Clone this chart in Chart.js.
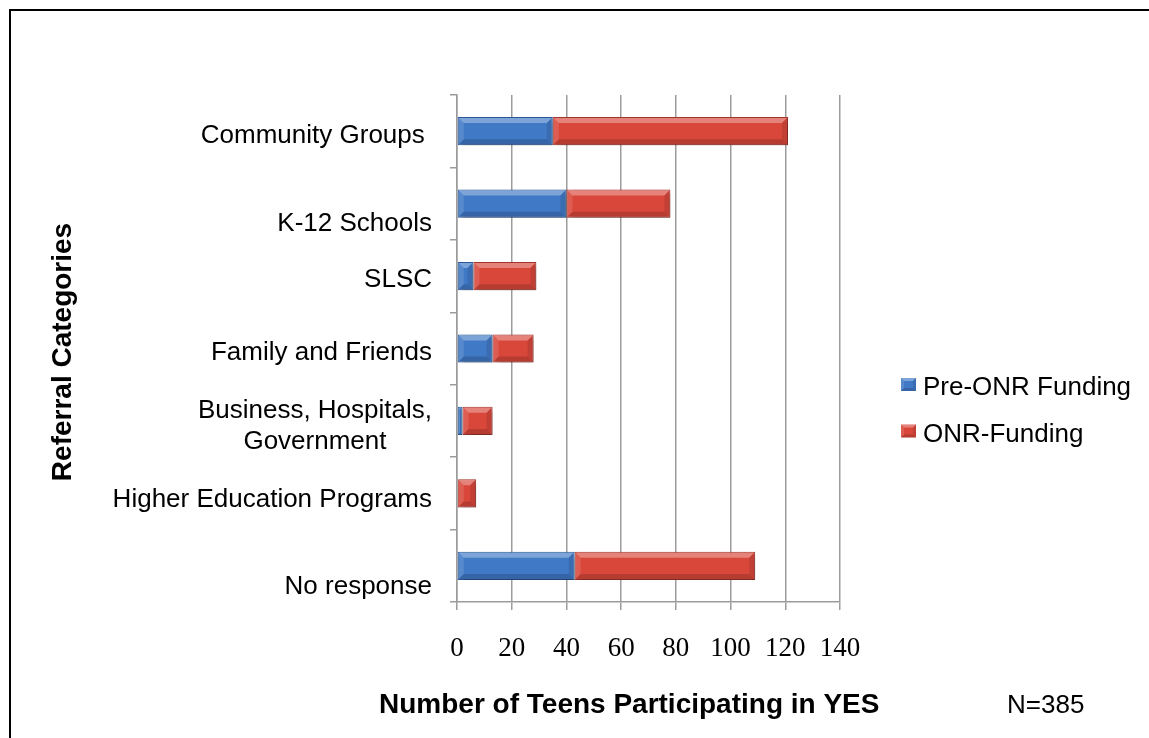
<!DOCTYPE html>
<html>
<head>
<meta charset="utf-8">
<script src="https://cdn.jsdelivr.net/npm/chart.js@4.4.1/dist/chart.umd.min.js"></script>
<style>
  html, body { margin: 0; padding: 0; background: #ffffff; }
  #wrap { width: 1149px; height: 738px; position: relative; }
</style>
</head>
<body>
<div id="wrap"><canvas id="chart" width="1149" height="738"></canvas></div>
<script>
// Referral sources for teens participating in YES
const categories = [
  'Community Groups ',
  'K-12 Schools',
  'SLSC',
  'Family and Friends',
  ['Business, Hospitals,', 'Government'],
  'Higher Education Programs',
  'No response'
];
const preOnrFunding = [35, 40, 6, 13, 2, 0, 43];
const onrFunding    = [86, 38, 23, 15, 11, 7, 66];
const seriesNames = ['Pre-ONR Funding', 'ONR-Funding'];
const xTickValues = [0, 20, 40, 60, 80, 100, 120, 140];
const xAxisTitle = 'Number of Teens Participating in YES';
const yAxisTitle = 'Referral Categories';
const sampleNote = 'N=385';

const SANS = '"Liberation Sans", Arial, sans-serif';
const SERIF = '"Liberation Serif", "Times New Roman", serif';
const GRID = '#9c9c9c';

const seriesStyle = [
  { fill: '#4079c6', border: '#2d5c9c' },
  { fill: '#d9473b', border: '#a8372d' }
];

// Bevelled face: light top edge, dark bottom edge, shaded ends
function drawBevel(ctx, l, t, r, b, depth) {
  const e = Math.min(depth, (r - l) / 2, (b - t) / 2);
  if (e <= 0) return;
  const poly = (pts, color) => {
    ctx.beginPath();
    ctx.moveTo(pts[0][0], pts[0][1]);
    for (let i = 1; i < pts.length; i++) ctx.lineTo(pts[i][0], pts[i][1]);
    ctx.closePath();
    ctx.fillStyle = color;
    ctx.fill();
  };
  poly([[l, t], [r, t], [r - e, t + e], [l + e, t + e]], 'rgba(255,255,255,0.32)');
  poly([[l, b], [r, b], [r - e, b - e], [l + e, b - e]], 'rgba(0,0,0,0.16)');
  poly([[l, t], [l + e, t + e], [l + e, b - e], [l, b]], 'rgba(255,255,255,0.12)');
  poly([[r, t], [r - e, t + e], [r - e, b - e], [r, b]], 'rgba(0,0,0,0.10)');
}

const bevelPlugin = {
  id: 'bevelBars',
  beforeDatasetsDraw(chart) {
    const ctx = chart.ctx;
    ctx.save();
    ctx.shadowColor = 'rgba(0,0,0,0.32)';
    ctx.shadowBlur = 6;
    ctx.shadowOffsetX = 3;
    ctx.shadowOffsetY = 3;
  },
  afterDatasetsDraw(chart) {
    const ctx = chart.ctx;
    ctx.restore();
    ctx.save();
    chart.data.datasets.forEach((ds, di) => {
      chart.getDatasetMeta(di).data.forEach(el => {
        const p = el.getProps(['x', 'y', 'base', 'height'], true);
        const l = Math.min(p.x, p.base) + 1, r = Math.max(p.x, p.base) - 1;
        if (r - l < 1) return;
        const t = p.y - p.height / 2 + 1, b = p.y + p.height / 2 - 1;
        drawBevel(ctx, l, t, r, b, 5);
      });
    });
    ctx.restore();
  }
};

// Category labels, axis titles, note, legend and frame
const annotatePlugin = {
  id: 'annotate',
  afterDraw(chart, args, opts) {
    const ctx = chart.ctx;
    const y = chart.scales.y;
    const area = chart.chartArea;
    ctx.save();

    // frame
    ctx.strokeStyle = '#000';
    ctx.lineWidth = 2;
    ctx.beginPath();
    ctx.moveTo(10, chart.height);
    ctx.lineTo(10, 10);
    ctx.lineTo(chart.width, 10);
    ctx.stroke();

    // category labels
    ctx.fillStyle = '#000';
    ctx.font = '26px ' + SANS;
    ctx.textBaseline = 'alphabetic';
    const capHalf = 9.3, lineGap = 31;
    const rightEdge = area.left - 25;
    chart.data.labels.forEach((lab, i) => {
      const lines = Array.isArray(lab) ? lab : [lab];
      const w = Math.max(...lines.map(s => ctx.measureText(s).width));
      const cx = rightEdge - w / 2;
      const cy = y.getPixelForValue(i) + opts.labelNudge[i];
      ctx.textAlign = lines.length > 1 ? 'center' : 'right';
      lines.forEach((s, k) => {
        const ly = cy + (k - (lines.length - 1) / 2) * lineGap + capHalf;
        ctx.fillText(s, lines.length > 1 ? cx : rightEdge, ly);
      });
    });

    // axis titles
    ctx.font = 'bold 28px ' + SANS;
    ctx.textAlign = 'left';
    ctx.fillText(xAxisTitle, 379, 713);
    ctx.save();
    ctx.translate(71, 352);
    ctx.rotate(-Math.PI / 2);
    ctx.textAlign = 'center';
    ctx.fillText(yAxisTitle, 0, 0);
    ctx.restore();

    // sample size note
    ctx.font = '26px ' + SANS;
    ctx.textAlign = 'left';
    ctx.fillText(sampleNote, 1007, 713);

    // legend
    chart.data.datasets.forEach((ds, di) => {
      const top = 378 + di * 46.5;
      ctx.fillStyle = ds.backgroundColor;
      ctx.fillRect(901, top, 15, 13);
      drawBevel(ctx, 901, top, 916, top + 13, 3);
      ctx.fillStyle = '#000';
      ctx.font = '26px ' + SANS;
      ctx.textAlign = 'left';
      ctx.fillText(ds.label, 923, top + 17);
    });

    ctx.restore();
  }
};

new Chart(document.getElementById('chart'), {
  type: 'bar',
  data: {
    labels: categories,
    datasets: [
      {
        label: seriesNames[0],
        data: preOnrFunding,
        backgroundColor: seriesStyle[0].fill,
        borderColor: seriesStyle[0].border,
        borderWidth: 1,
        borderSkipped: false,
        barPercentage: 0.39,
        categoryPercentage: 1
      },
      {
        label: seriesNames[1],
        data: onrFunding,
        backgroundColor: seriesStyle[1].fill,
        borderColor: seriesStyle[1].border,
        borderWidth: 1,
        borderSkipped: false,
        barPercentage: 0.39,
        categoryPercentage: 1
      }
    ]
  },
  options: {
    indexAxis: 'y',
    responsive: false,
    animation: false,
    devicePixelRatio: 1,
    layout: { padding: { top: 95, right: 309, left: 0, bottom: 0 } },
    scales: {
      x: {
        stacked: true,
        min: xTickValues[0],
        max: xTickValues[xTickValues.length - 1],
        afterBuildTicks: s => { s.ticks = xTickValues.map(v => ({ value: v })); },
        afterFit: s => { s.height = 136; },
        grid: { color: GRID, lineWidth: 1.5, tickLength: 8, drawTicks: true },
        border: { color: GRID, width: 1.5 },
        ticks: {
          color: '#000',
          padding: 23,
          maxRotation: 0,
          autoSkip: false,
          font: { family: SERIF, size: 27 }
        }
      },
      y: {
        stacked: true,
        afterFit: s => { s.width = 457; },
        grid: { drawOnChartArea: false, color: GRID, lineWidth: 1.5, tickLength: 7, offset: true },
        border: { color: GRID, width: 1.5 },
        ticks: { display: false }
      }
    },
    plugins: {
      legend: { display: false },
      tooltip: { enabled: false },
      annotate: { labelNudge: [2, 18, 2, 2, 3, 4, 19] }
    }
  },
  plugins: [bevelPlugin, annotatePlugin]
});
</script>
</body>
</html>
